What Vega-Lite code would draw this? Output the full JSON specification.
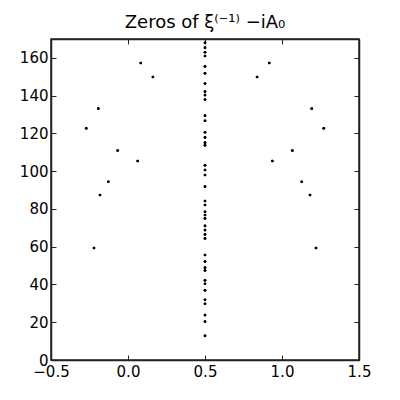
{
  "$schema": "https://vega.github.io/schema/vega-lite/v6.json",
  "autosize": "none",
  "width": 308,
  "height": 321,
  "padding": {"left": 51, "top": 39, "right": 41, "bottom": 40},
  "background": "white",
  "title": {"text": "Zeros of ξ⁽⁻¹⁾ −iA₀", "font": "DejaVu Sans", "fontSize": 18, "fontWeight": "normal", "color": "black", "offset": 7, "anchor": "middle"},
  "config": {"view": {"stroke": "#222222", "strokeWidth": 1.5}},
  "data": {"values": [
    {"x": 0.5, "y": 168.0}, {"x": 0.5, "y": 165.4}, {"x": 0.5, "y": 163.0}, {"x": 0.5, "y": 161.0},
    {"x": 0.5, "y": 155.5}, {"x": 0.5, "y": 151.8}, {"x": 0.5, "y": 146.4}, {"x": 0.5, "y": 142.1},
    {"x": 0.5, "y": 140.3}, {"x": 0.5, "y": 137.9}, {"x": 0.5, "y": 129.4}, {"x": 0.5, "y": 126.7},
    {"x": 0.5, "y": 120.6}, {"x": 0.5, "y": 117.9}, {"x": 0.5, "y": 115.1}, {"x": 0.5, "y": 113.7},
    {"x": 0.5, "y": 103.1}, {"x": 0.5, "y": 100.6}, {"x": 0.5, "y": 98.0}, {"x": 0.5, "y": 91.8},
    {"x": 0.5, "y": 84.2}, {"x": 0.5, "y": 82.1}, {"x": 0.5, "y": 78.5}, {"x": 0.5, "y": 76.8},
    {"x": 0.5, "y": 75.0}, {"x": 0.5, "y": 71.0}, {"x": 0.5, "y": 68.8}, {"x": 0.5, "y": 66.5},
    {"x": 0.5, "y": 64.4}, {"x": 0.5, "y": 55.6}, {"x": 0.5, "y": 52.1}, {"x": 0.5, "y": 48.9},
    {"x": 0.5, "y": 47.4}, {"x": 0.5, "y": 42.2}, {"x": 0.5, "y": 40.4}, {"x": 0.5, "y": 36.9},
    {"x": 0.5, "y": 31.9}, {"x": 0.5, "y": 29.8}, {"x": 0.5, "y": 23.8}, {"x": 0.5, "y": 20.3},
    {"x": 0.5, "y": 12.8},
    {"x": 0.083, "y": 157.3}, {"x": 0.162, "y": 149.9}, {"x": -0.193, "y": 133.1},
    {"x": -0.271, "y": 122.7}, {"x": -0.067, "y": 110.9}, {"x": 0.063, "y": 105.4},
    {"x": -0.128, "y": 94.4}, {"x": -0.182, "y": 87.4}, {"x": -0.221, "y": 59.3},
    {"x": 0.917, "y": 157.3}, {"x": 0.838, "y": 149.9}, {"x": 1.193, "y": 133.1},
    {"x": 1.271, "y": 122.7}, {"x": 1.067, "y": 110.9}, {"x": 0.937, "y": 105.4},
    {"x": 1.128, "y": 94.4}, {"x": 1.182, "y": 87.4}, {"x": 1.221, "y": 59.3}
  ]},
  "layer": [
    {
      "mark": {"type": "point", "filled": true, "color": "black", "size": 7, "opacity": 1, "strokeWidth": 0},
      "encoding": {
        "x": {"field": "x", "type": "quantitative", "scale": {"domain": [-0.5, 1.5], "nice": false, "zero": false},
              "axis": {"orient": "bottom", "title": null, "values": [-0.5, 0, 0.5, 1, 1.5], "format": ".1f", "grid": false,
                       "domainColor": "#222222", "domainWidth": 1.5, "tickColor": "#222222", "tickSize": -5, "labelPadding": 9,
                       "labelFont": "DejaVu Sans", "labelFontSize": 15, "labelColor": "black", "labelFlush": false}},
        "y": {"field": "y", "type": "quantitative", "scale": {"domain": [0, 170], "nice": false, "zero": false},
              "axis": {"orient": "left", "title": null, "values": [0, 20, 40, 60, 80, 100, 120, 140, 160], "grid": false,
                       "domainColor": "#222222", "domainWidth": 1.5, "tickColor": "#222222", "tickSize": -5, "labelPadding": 8,
                       "labelFont": "DejaVu Sans", "labelFontSize": 15, "labelColor": "black", "labelFlush": false}}
      }
    },
    {
      "mark": {"type": "point", "filled": true, "color": "black", "size": 7, "opacity": 1, "strokeWidth": 0},
      "encoding": {
        "x": {"field": "x", "type": "quantitative", "scale": {"domain": [-0.5, 1.5], "nice": false, "zero": false},
              "axis": {"orient": "top", "title": null, "values": [-0.5, 0, 0.5, 1, 1.5], "labels": false, "grid": false,
                       "domainColor": "#222222", "domainWidth": 1.5, "tickColor": "#222222", "tickSize": -5}},
        "y": {"field": "y", "type": "quantitative", "scale": {"domain": [0, 170], "nice": false, "zero": false},
              "axis": {"orient": "right", "title": null, "values": [0, 20, 40, 60, 80, 100, 120, 140, 160], "labels": false, "grid": false,
                       "domainColor": "#222222", "domainWidth": 1.5, "tickColor": "#222222", "tickSize": -5}}
      }
    }
  ],
  "resolve": {"axis": {"x": "independent", "y": "independent"}}
}
